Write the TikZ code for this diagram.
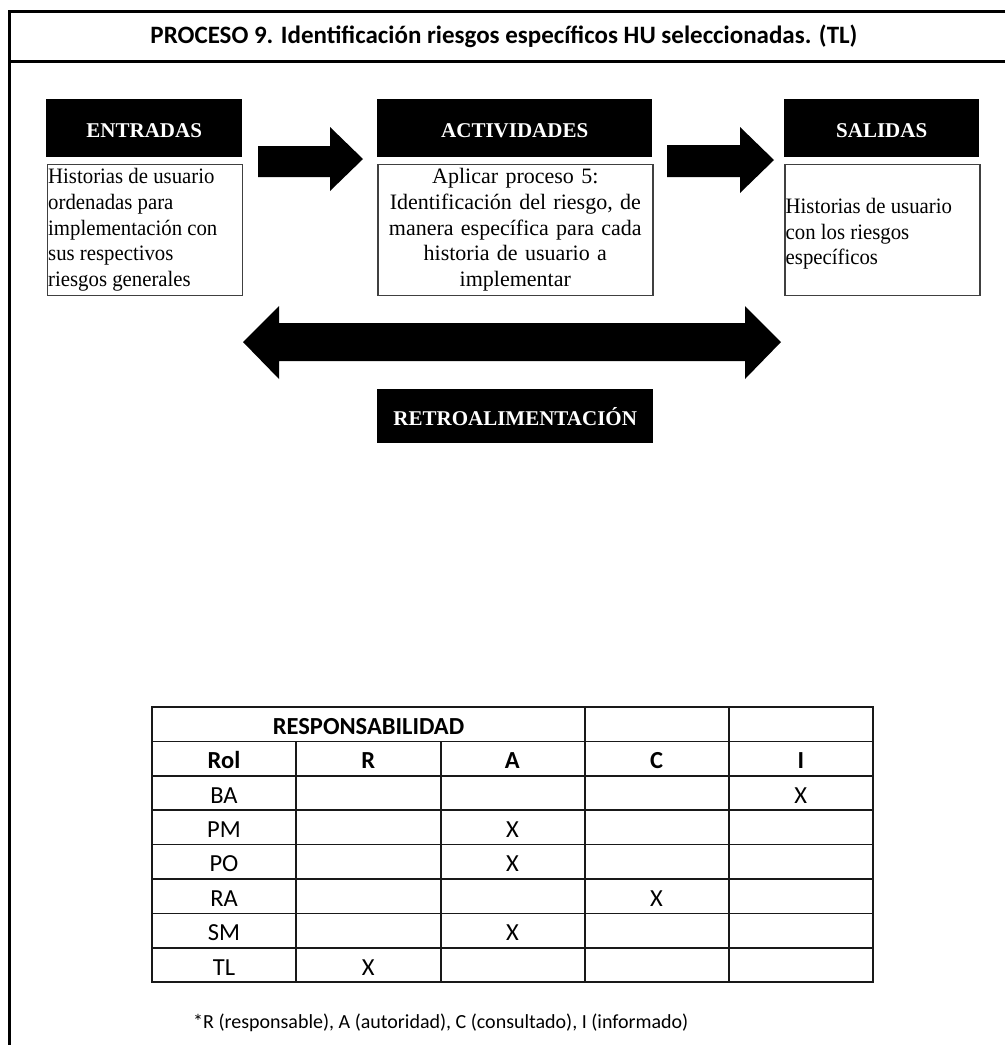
\documentclass[tikz,border=0pt]{standalone}
\usepackage{fontspec}
\setmainfont{Liberation Serif}
\newfontfamily\calibri{Carlito}
\newfontfamily\narrowserif[FakeStretch=0.945]{Liberation Serif}

\begin{document}
\begin{tikzpicture}[x=1pt,y=-1pt,
  frame/.style={line width=3pt, draw=black},
  headbox/.style={fill=black, text=white, anchor=north west, inner sep=0pt,
    minimum height=58pt, text height=18pt, text depth=0pt,
    font=\fontsize{21}{24}\selectfont\bfseries},
  bodybox/.style={draw=black!75, line width=1.6pt, fill=white, anchor=north west,
    minimum height=131pt, inner xsep=1.5pt, inner ysep=0pt,
    font=\fontsize{22}{25.8}\selectfont},
  sidetext/.style={font=\narrowserif\fontsize{22}{25.8}\selectfont, align=left, inner sep=0pt},
  blockarrow/.style={fill=black},
  gridline/.style={line width=1.5pt, draw=black!90},
  cell/.style={font=\calibri\fontsize{24.5}{27}\selectfont, inner sep=0pt,
    text height=20pt, text depth=0pt},
  headcell/.style={cell, font=\calibri\bfseries\fontsize{24.5}{27}\selectfont}
]
\useasboundingbox (0,0) rectangle (1005,1045);
\fill[white] (0,0) rectangle (1005,1045);

% outer frame and title band
\draw[frame] (1005,11.5) -- (9,11.5) -- (9,1045);
\draw[frame] (9,61) -- (1005,61);
\node[font=\calibri\bfseries\fontsize{25}{30}\selectfont] (title) at (504,36)
  {PROCESO 9. Identificación riesgos específicos HU seleccionadas. (TL)};

% inputs
\node[headbox, minimum width=196pt] (inHead) at (46,99) {ENTRADAS};
\node[bodybox, minimum width=195pt] (inBody) at (46.5,163.5) {};
\node[sidetext, anchor=west, xshift=1.5pt] (inText) at (inBody.west)
  {Historias de usuario\\ordenadas para\\implementación con\\sus respectivos\\riesgos generales};

% activities
\node[headbox, minimum width=275pt] (actHead) at (377,99) {ACTIVIDADES};
\node[bodybox, minimum width=275pt, text width=271pt, align=center] (actBody) at (377,163.5)
  {Aplicar proceso 5:\\Identificación del riesgo, de\\manera específica para cada\\historia de usuario a\\implementar};

% outputs
\node[headbox, minimum width=195pt] (outHead) at (784,99) {SALIDAS};
\node[bodybox, minimum width=195pt] (outBody) at (784,163.5) {};
\node[sidetext, anchor=west, xshift=1.5pt, yshift=-4pt] (outText) at (outBody.west)
  {Historias de usuario\\con los riesgos\\específicos};

% block arrows between the columns
\fill[blockarrow] (258,146) -- (330,146) -- (330,127) -- (363,159) -- (330,191)
  -- (330,177) -- (258,177) -- cycle;
\fill[blockarrow] (667,145) -- (740,145) -- (740,127) -- (774,160) -- (740,193)
  -- (740,177) -- (667,177) -- cycle;

% feedback double arrow
\fill[blockarrow] (243,342) -- (279,306) -- (279,323) -- (745,323) -- (745,306)
  -- (781,342) -- (745,379) -- (745,361) -- (279,361) -- (279,379) -- cycle;
\node[headbox, minimum width=276pt, minimum height=54pt] (fbHead) at (377,389) {RETROALIMENTACIÓN};

% responsibility matrix
\def\rowh{34.4}
\draw[gridline] (152,707) rectangle (873,982.2);
\foreach \k in {1,...,7} \draw[gridline] (152,707+\k*\rowh) -- (873,707+\k*\rowh);
\foreach \x in {296,441} \draw[gridline] (\x,707+\rowh) -- (\x,982.2);
\foreach \x in {585,729} \draw[gridline] (\x,707) -- (\x,982.2);

\node[headcell] (resp) at (368.5,707+0.5*\rowh) {RESPONSABILIDAD};
\foreach \t [count=\i from 0] in {Rol,R,A,C,I}
  \node[headcell] (h\i) at (224+\i*144.2,707+1.5*\rowh) {\t};
\foreach \r [count=\j from 2] in {BA,PM,PO,RA,SM,TL}
  \node[cell] (role\j) at (224,707+\j*\rowh+0.5*\rowh) {\r};

% marks
\node[cell] (mBA) at (800.8,707+2.5*\rowh) {X};
\node[cell] (mPM) at (512.4,707+3.5*\rowh) {X};
\node[cell] (mPO) at (512.4,707+4.5*\rowh) {X};
\node[cell] (mRA) at (656.6,707+5.5*\rowh) {X};
\node[cell] (mSM) at (512.4,707+6.5*\rowh) {X};
\node[cell] (mTL) at (368.2,707+7.5*\rowh) {X};

\node[font=\calibri\fontsize{20}{24}\selectfont, anchor=west, inner sep=0pt] (legend) at (193,1023)
  {*R (responsable), A (autoridad), C (consultado), I (informado)};
\end{tikzpicture}
\end{document}
